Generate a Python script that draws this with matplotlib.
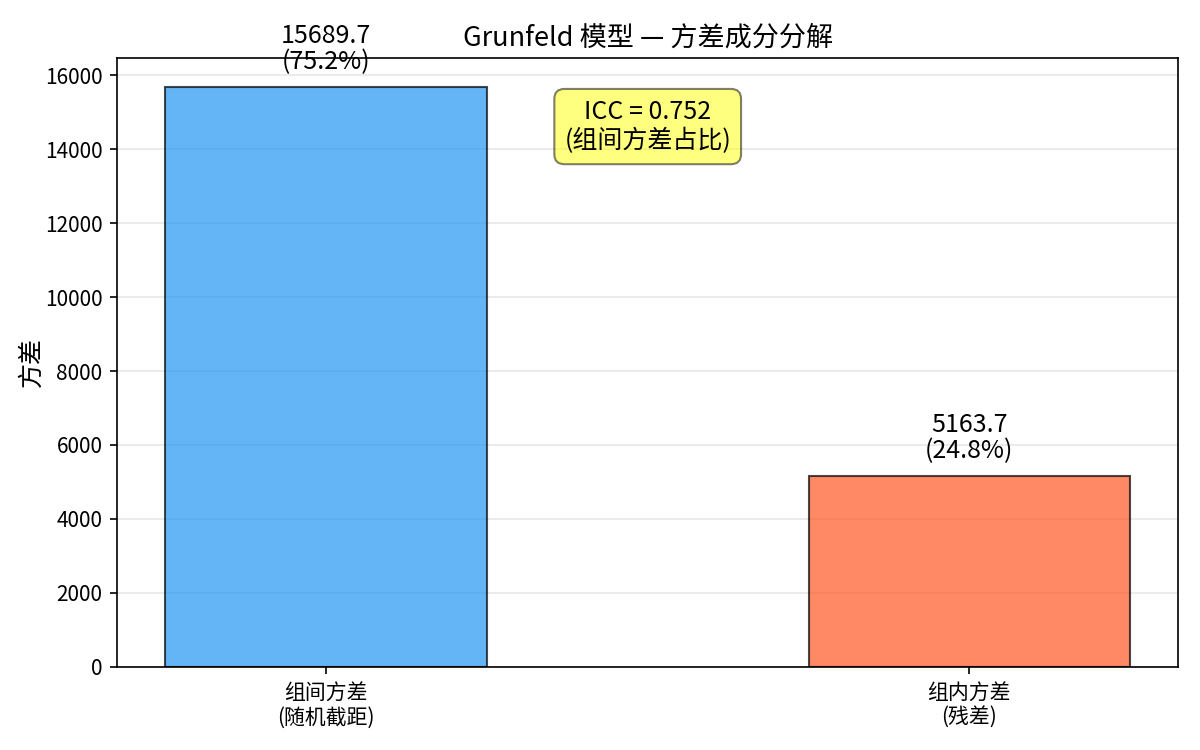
import matplotlib
matplotlib.use('Agg')
import matplotlib.pyplot as plt

plt.rcParams['font.family'] = ['Noto Sans CJK SC', 'DejaVu Sans']
plt.rcParams['axes.unicode_minus'] = False

# data
categories = ['组间方差\n(随机截距)', '组内方差\n(残差)']
variances = [15689.7, 5163.7]
shares = [75.2, 24.8]
icc = 0.752
bar_colors = ['#2196F3', '#FF5722']

fig, ax = plt.subplots(figsize=(8, 5), dpi=150)

x = range(len(categories))
bars = ax.bar(x, variances, width=0.5, color=bar_colors, alpha=0.7,
              edgecolor='black', linewidth=1.0)

top = max(variances)
for b, v, s in zip(bars, variances, shares):
    ax.text(b.get_x() + b.get_width() / 2, v + top * 0.02, f'{v:.1f}\n({s:.1f}%)',
            ha='center', va='bottom', fontsize=12, linespacing=1.0)

ax.text(0.5, 0.887, f'ICC = {icc:.3f}\n(组间方差占比)', transform=ax.transAxes,
        ha='center', va='center', fontsize=12, linespacing=1.15,
        bbox=dict(boxstyle='round,pad=0.4', facecolor='yellow', alpha=0.5))

ax.set_xticks(list(x))
ax.set_xticklabels(categories, fontsize=10)
ax.set_ylabel('方差', fontsize=12)
ax.yaxis.set_label_coords(-0.068, 0.5)
ax.set_title('Grunfeld 模型 — 方差成分分解', fontsize=13)
ax.set_ylim(0, top * 1.05)
ax.yaxis.grid(True, alpha=0.3)
ax.set_axisbelow(True)

fig.subplots_adjust(left=0.0975, right=0.982, top=0.923, bottom=0.111)
fig.savefig('out.png')
